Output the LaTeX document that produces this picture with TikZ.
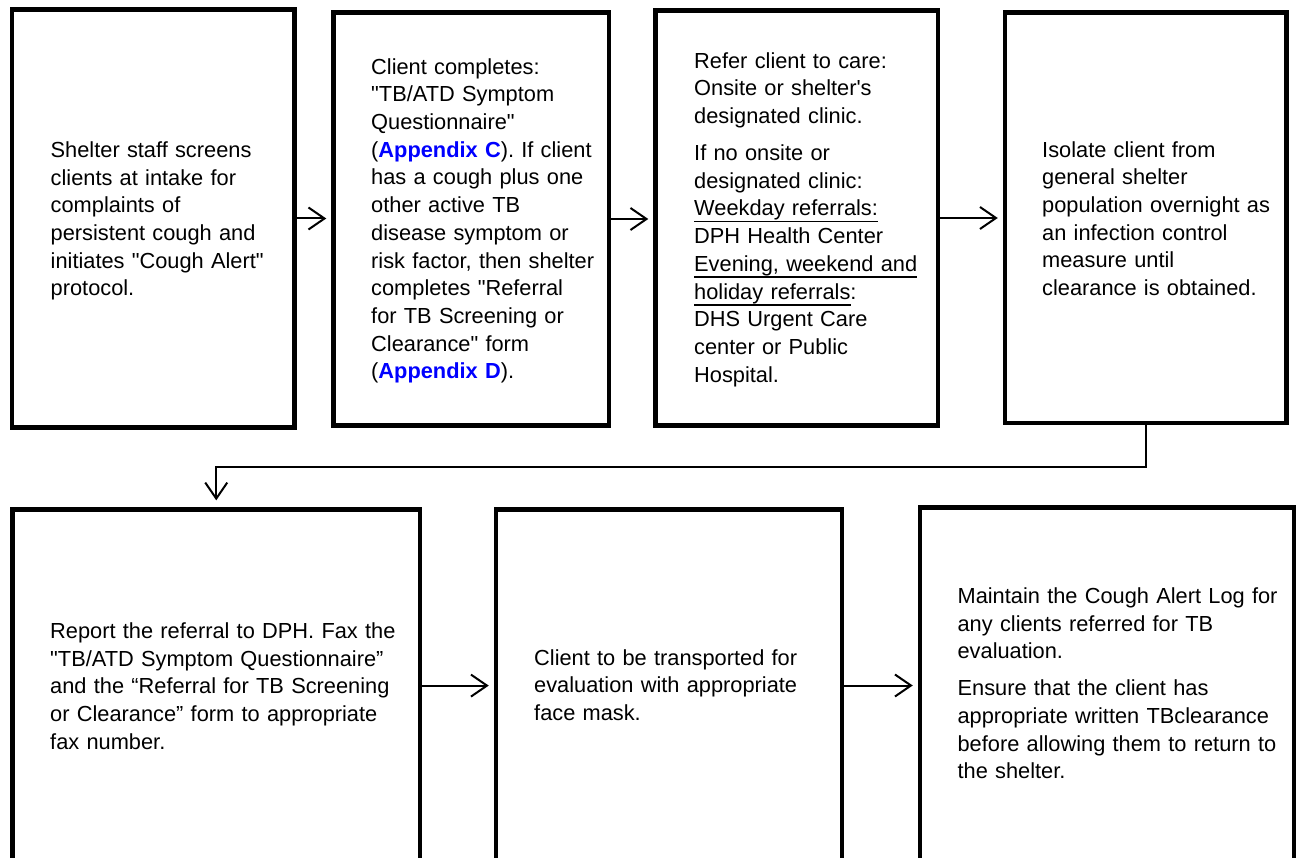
\documentclass[tikz,border=0pt]{standalone}
\usepackage{fontspec}
\setmainfont{Liberation Sans}[Ligatures=TeXOff]
\usetikzlibrary{arrows.meta,calc}
\definecolor{appblue}{RGB}{0,0,255}
\newcommand\myul[1]{\leavevmode\setbox0\hbox{#1}\rlap{\rule[-6.5pt]{\wd0}{1.6pt}}\box0}
\newcommand\app[1]{\textbf{\color{appblue}#1}}
\newcommand\fl{\rule{0pt}{16.5pt}}
\tikzset{
  stepbox/.style={draw=black, line width=4.5pt, inner sep=0pt, fill=white},
  boxtext/.style={anchor=north west, inner sep=0pt, text width=400pt, align=left,
    font=\fontsize{21.8pt}{27.7pt}\selectfont},
  flow/.style={draw=black, line width=2pt, -{Straight Barb[length=16pt,width=22pt]}, shorten >=5pt},
}
\begin{document}
\begin{tikzpicture}[x=1pt,y=-1pt]
\useasboundingbox (0,0) rectangle (1296,858);
\clip (0,0) rectangle (1296,858);
\fill[white] (0,0) rectangle (1296,858);

% boxes
\node[stepbox, minimum width=282.5pt, minimum height=418pt] (b1) at (153.25,218.5) {};
\node[stepbox, minimum width=275.5pt, minimum height=413pt] (b2) at (471.25,219) {};
\node[stepbox, minimum width=282.5pt, minimum height=415pt] (b3) at (796.75,218) {};
\node[stepbox, minimum width=281.5pt, minimum height=410.5pt] (b4) at (1145.75,217.75) {};
\node[stepbox, minimum width=407.5pt, minimum height=352pt] (b5) at (216.25,685.6) {};
\node[stepbox, minimum width=346pt, minimum height=352pt] (b6) at (669,685.5) {};
\node[stepbox, minimum width=374pt, minimum height=356pt] (b7) at (1107,685.5) {};

% texts
\node[boxtext] (t1) at (50.5,140.8) {\fl Shelter staff screens\\
clients at intake for\\
complaints of\\
persistent cough and\\
initiates "Cough Alert"\\
protocol.};

\node[boxtext] (t2) at (371,57.5) {\fl Client completes:\\
"TB/ATD Symptom\\
Questionnaire"\\
(\app{Appendix C}). If client\\
has a cough plus one\\
other active TB\\
disease symptom or\\
risk factor, then shelter\\
completes "Referral\\
for TB Screening or\\
Clearance" form\\
(\app{Appendix D}).};

\node[boxtext] (t3) at (694,51.6) {\fl Refer client to care:\\
Onsite or shelter's\\
designated clinic.\\[9.2pt]
If no onsite or\\
designated clinic:\\
\myul{Weekday referrals:}\\
DPH Health Center\\
\myul{Evening, weekend and}\\
\myul{holiday referrals}:\\
DHS Urgent Care\\
center or Public\\
Hospital.};

\node[boxtext] (t4) at (1042,140.4) {\fl Isolate client from\\
general shelter\\
population overnight as\\
an infection control\\
measure until\\
clearance is obtained.};

\node[boxtext] (t5) at (50,621.8) {\fl Report the referral to DPH. Fax the\\
"TB/ATD Symptom Questionnaire”\\
and the “Referral for TB Screening\\
or Clearance” form to appropriate\\
fax number.};

\node[boxtext] (t6) at (534,648.5) {\fl Client to be transported for\\
evaluation with appropriate\\
face mask.};

\node[boxtext] (t7) at (957.4,586.8) {\fl Maintain the Cough Alert Log for\\
any clients referred for TB\\
evaluation.\\[9.2pt]
Ensure that the client has\\
appropriate written TBclearance\\
before allowing them to return to\\
the shelter.};

% connectors
\draw[flow] (b1.east) -- (b1.east -| b2.west);
\draw[flow] (b2.east) -- (b2.east -| b3.west);
\draw[flow] (b3.east) -- (b3.east -| b4.west);
\coordinate (turn) at (0,467);
\draw[flow, shorten >=7pt] (b4.south) -- (b4.south |- turn) -| (b5.north);
\draw[flow] (b5.east) -- (b5.east -| b6.west);
\draw[flow] (b6.east) -- (b6.east -| b7.west);
\end{tikzpicture}
\end{document}
